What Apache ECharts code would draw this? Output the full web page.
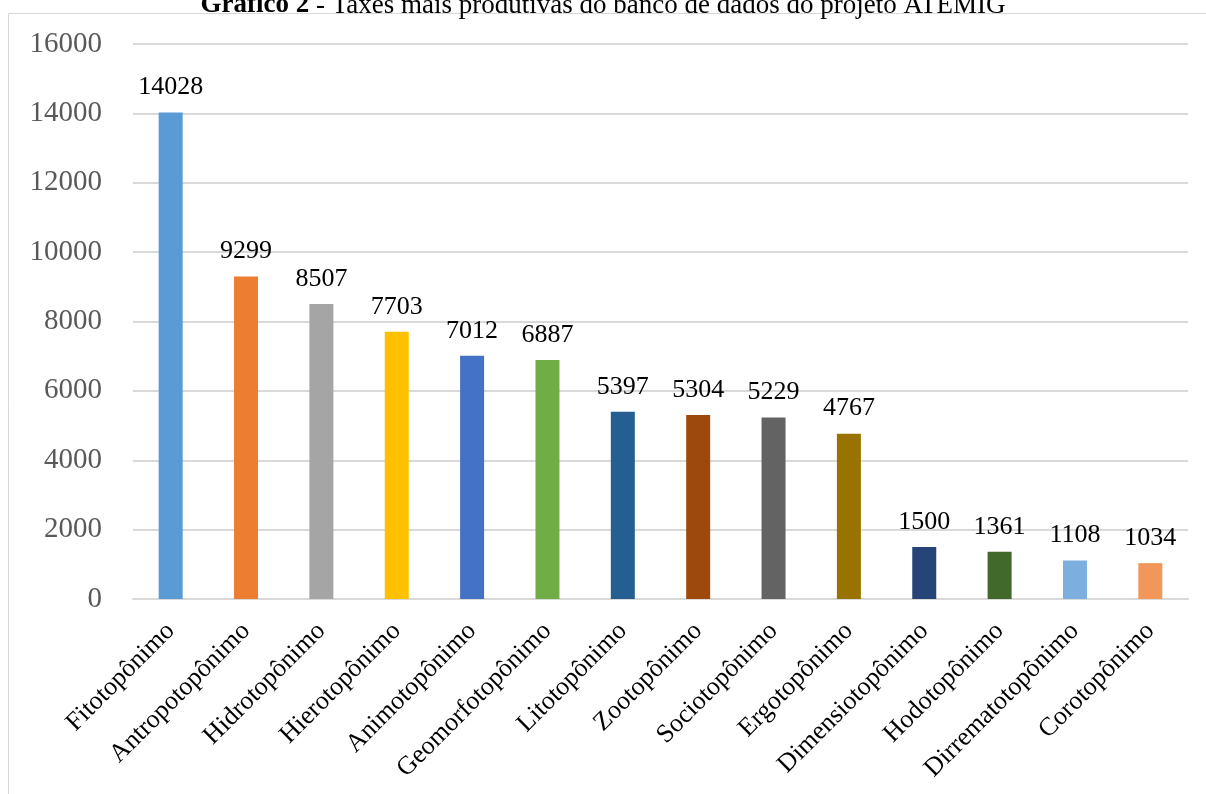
<!DOCTYPE html>
<html>
<head>
<meta charset="utf-8">
<script src="https://cdn.jsdelivr.net/npm/echarts@6/dist/echarts.min.js"></script>
<style>
  html, body { margin: 0; padding: 0; background: #fff; }
  #chart { width: 1206px; height: 794px; }
</style>
</head>
<body>
<div id="chart"></div>
<script>
// Toponymic taxes and their counts
const categories = [
  'Fitotopônimo', 'Antropotopônimo', 'Hidrotopônimo', 'Hierotopônimo',
  'Animotopônimo', 'Geomorfotopônimo', 'Litotopônimo', 'Zootopônimo',
  'Sociotopônimo', 'Ergotopônimo', 'Dimensiotopônimo', 'Hodotopônimo',
  'Dirrematotopônimo', 'Corotopônimo'
];
const values = [14028, 9299, 8507, 7703, 7012, 6887, 5397, 5304, 5229, 4767, 1500, 1361, 1108, 1034];
const barColors = [
  '#5B9BD5', '#ED7D31', '#A5A5A5', '#FFC000', '#4472C4', '#70AD47', '#255E91',
  '#9E480E', '#636363', '#997300', '#264478', '#43682B', '#7CAFDD', '#F1975A'
];
const titleBold = 'Gráfico 2';
const titleRest = ' - Taxes mais produtivas do banco de dados do projeto ATEMIG';

const serif = '"Liberation Serif", "Times New Roman", serif';
const chart = echarts.init(document.getElementById('chart'));

chart.setOption({
  animation: false,
  graphic: [
    {
      type: 'rect',
      shape: { x: 8.5, y: 13.5, width: 1300, height: 900 },
      style: { fill: 'none', stroke: '#d9d9d9', lineWidth: 1 },
      silent: true,
      z: 0
    },
    {
      type: 'text',
      left: 'center',
      y: -8,
      silent: true,
      z: 10,
      style: {
        text: '{b|' + titleBold + '}{r|' + titleRest + '}',
        rich: {
          b: { fontFamily: serif, fontSize: 27, fontWeight: 'bold', fill: '#000' },
          r: { fontFamily: serif, fontSize: 27, fill: '#000' }
        }
      }
    }
  ],
  grid: { left: 133, right: 18, top: 44, bottom: 195 },
  xAxis: {
    type: 'category',
    data: categories,
    axisLine: { lineStyle: { color: '#d9d9d9', width: 2 } },
    axisTick: { show: false },
    axisLabel: {
      rotate: 45, interval: 0, margin: 28,
      fontFamily: serif, fontSize: 26, color: '#000'
    }
  },
  yAxis: {
    type: 'value',
    min: 0, max: 16000, interval: 2000,
    axisLine: { show: false },
    axisTick: { show: false },
    splitLine: { lineStyle: { color: '#d9d9d9', width: 2 } },
    axisLabel: {
      margin: 31, fontFamily: serif, fontSize: 29, color: '#595959',
      formatter: v => String(v)
    }
  },
  series: [{
    type: 'bar',
    data: values.map((v, i) => ({ value: v, itemStyle: { color: barColors[i] } })),
    barWidth: 24,
    label: {
      show: true, position: 'top', distance: 12,
      fontFamily: serif, fontSize: 26, color: '#000'
    }
  }]
});
</script>
</body>
</html>
